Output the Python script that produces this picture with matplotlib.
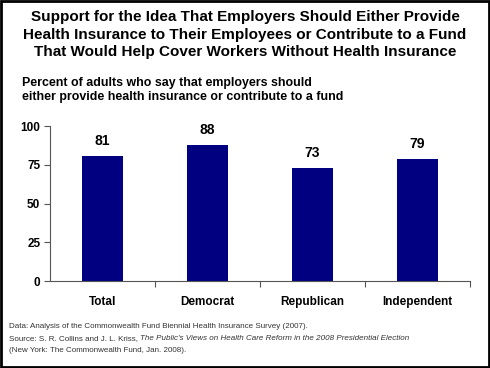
import matplotlib
matplotlib.use("Agg")
import matplotlib.pyplot as plt
from matplotlib.patches import Rectangle

categories = ["Total", "Democrat", "Republican", "Independent"]
values = [81, 88, 73, 79]
yticks = [0, 25, 50, 75, 100]

plt.rcParams['font.family'] = ['Liberation Sans', 'DejaVu Sans']

fig = plt.figure(figsize=(4.9, 3.68), dpi=100)
ax = fig.add_axes([0.102, 0.236, 0.857, 0.421])

x = list(range(len(categories)))
bars = ax.bar(x, values, width=0.39, color='#000080')
for xi, v in zip(x, values):
    ax.text(xi, v + 5, str(v), ha='center', va='bottom', fontsize=10, fontweight='bold')

ax.set_xlim(-0.5, len(categories) - 0.5)
ax.set_ylim(0, 100)
ax.set_yticks(yticks)
ax.set_yticklabels([str(t) for t in yticks], fontsize=8.5, fontweight='bold')
ax.set_xticks([i + 0.5 for i in range(len(categories))])
ax.set_xticklabels([])
ax.set_xticks(x, minor=True)
ax.set_xticklabels(categories, minor=True, fontsize=8.5, fontweight='bold')
ax.tick_params(axis='x', which='minor', length=0, pad=11)
ax.tick_params(axis='both', which='major', direction='out', length=4, width=0.8, color='#555555')
ax.tick_params(axis='y', pad=3)
for s in ['top', 'right']:
    ax.spines[s].set_visible(False)
for s in ['left', 'bottom']:
    ax.spines[s].set_color('#555555')
    ax.spines[s].set_linewidth(0.8)

fig.text(0.5, 0.972, "Support for the Idea That Employers Should Either Provide\n"
         "Health Insurance to Their Employees or Contribute to a Fund\n"
         "That Would Help Cover Workers Without Health Insurance",
         ha='center', va='top', fontsize=11, fontweight='bold', linespacing=1.3)
fig.text(0.045, 0.792, "Percent of adults who say that employers should\n"
         "either provide health insurance or contribute to a fund",
         ha='left', va='top', fontsize=8.9, fontweight='bold', linespacing=1.3)

fs = 5.8
fig.text(0.018, 0.122, "Data: Analysis of the Commonwealth Fund Biennial Health Insurance Survey (2007).",
         ha='left', va='top', fontsize=fs, color='#333333')
src = fig.text(0.018, 0.090, "Source: S. R. Collins and J. L. Kriss, ",
               ha='left', va='top', fontsize=fs, color='#333333')
fig.canvas.draw()
bb = src.get_window_extent().transformed(fig.transFigure.inverted())
fig.text(bb.x1, 0.090, "The Public's Views on Health Care Reform in the 2008 Presidential Election",
         ha='left', va='top', fontsize=fs, style='italic', color='#333333')
fig.text(0.018, 0.058, "(New York: The Commonwealth Fund, Jan. 2008).",
         ha='left', va='top', fontsize=fs, color='#333333')

fig.patches.append(Rectangle((0.002, 0.003), 0.995, 0.994, transform=fig.transFigure,
                             fill=False, edgecolor='black', linewidth=2))

fig.savefig("out.png", dpi=100)
